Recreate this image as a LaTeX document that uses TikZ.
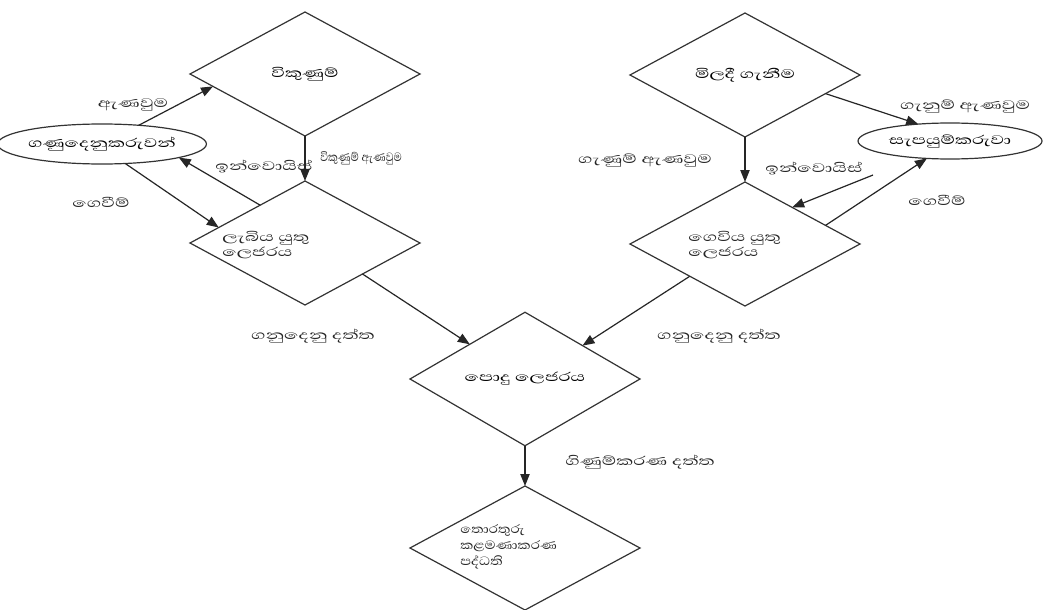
\documentclass[tikz,border=0pt]{standalone}
\usepackage{fontspec}
\newfontfamily\sinhfont[Script=Sinhala,FakeStretch=1.5]{Abhaya Libre}
\newfontfamily\sinhmid[Script=Sinhala,FakeStretch=1.2]{Abhaya Libre}
\newfontfamily\sinhnar[Script=Sinhala,FakeStretch=0.9]{Abhaya Libre}
\usetikzlibrary{shapes.geometric,arrows.meta,calc}
\begin{document}
\begin{tikzpicture}[x=0.75pt,y=-0.75pt,
  sfont/.style={font=\sinhfont\fontsize{12}{11.5}\selectfont},
  dia/.style={draw=black!80, line width=0.9pt, shape=diamond, minimum width=172.5pt, minimum height=93pt, inner sep=0pt, outer sep=0pt, sfont},
  ell/.style={draw=black!80, line width=0.9pt, ellipse, inner sep=0pt, outer sep=0pt, sfont},
  txt/.style={sfont, inner sep=0pt, align=left, text=black!85},
  arr/.style={draw=black!85, line width=0.9pt, -{Triangle[length=9pt,width=7pt]}}]
\useasboundingbox (0,0) rectangle (1049,610);
\fill[white] (0,0) rectangle (1049,610);

% diamonds
\node[dia] (d1) at (305,74) {විකුණුම්};
\node[dia] (d2) at (745,75) {මිලදී ගැනීම};
\node[dia] (d3) at (305,243) {};
\node[dia] (d4) at (745,244) {};
\node[dia] (d5) at (525,379) {පොදු ලෙජරය};
\node[dia] (d6) at (525,548) {};
\node[txt, anchor=west] (t3) at (222,245) {ලැබිය යුතු\\ලෙජරය};
\node[txt, anchor=west] (t4) at (688,245) {ගෙවිය යුතු\\ලෙජරය};
\node[txt, anchor=west, font=\sinhmid\fontsize{11.5}{12}\selectfont] (t6) at (460,547) {තොරතුරු\\කළමණාකරණ\\පද්ධති};

% ellipses
\node[ell, minimum width=144pt, minimum height=30pt] (eL) at (102,144) {ගණුදෙනුකරුවන්};
\node[ell, minimum width=138pt, minimum height=27pt] (eR) at (950,141) {සැපයුම්කරුවා};
\coordinate (invR) at (873,175);

% connectors
\draw[arr] (eL.27) -- ($(d1.west)!0.2!(d1.south)$);
\draw[arr] ($(d3.west)!0.61!(d3.north)$) -- (eL.-10);
\draw[arr] (eL.-40) -- ($(d3.west)!0.25!(d3.north)$);
\draw[arr] (d1.south) -- (d3.north);
\draw[arr] (d2.south) -- (d4.north);
\draw[arr] ($(d2.east)!0.3!(d2.south)$) -- (eR.152);
\draw[arr] (invR) -- ($(d4.north)!0.41!(d4.east)$);
\draw[arr] ($(d4.north)!0.70!(d4.east)$) -- (eR.-143);
\draw[arr] ($(d3.east)!0.5!(d3.south)$) -- ($(d5.west)!0.52!(d5.north)$);
\draw[arr] ($(d4.west)!0.52!(d4.south)$) -- ($(d5.north)!0.5!(d5.east)$);
\draw[arr] (d5.south) -- (d6.north);

% labels
\node[txt] (l1) at (133,105) {ඇණවුම};
\node[txt, anchor=west, font=\sinhnar\fontsize{11.5}{11.5}\selectfont] (l2) at (320,158) {විකුණුම් ඇණවුම};
\node[txt] (l3) at (264,167) {ඉන්වොයිස්};
\node[txt] (l4) at (101,202) {ගෙවීම්};
\node[txt] (l5) at (645,160) {ගැණුම් ඇණවුම};
\node[txt] (l6) at (965,106) {ගැනුම් ඇණවුම};
\node[txt] (l7) at (814,169) {ඉන්වොයිස්};
\node[txt] (l8) at (937,200) {ගෙවීම්};
\node[txt] (l9) at (313,336) {ගනුදෙනු දත්ත};
\node[txt] (l10) at (719,336) {ගනුදෙනු දත්ත};
\node[txt] (l11) at (640,462) {ගිණුම්කරණ දත්ත};
\end{tikzpicture}
\end{document}
